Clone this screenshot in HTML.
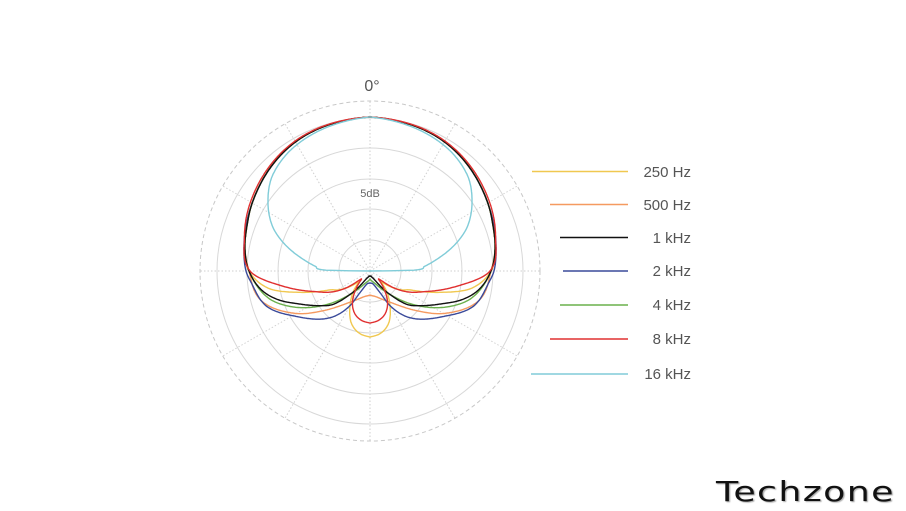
<!DOCTYPE html>
<html><head><meta charset="utf-8"><style>
html,body{margin:0;padding:0;background:#fff;}
body{width:906px;height:511px;overflow:hidden;position:relative;font-family:"Liberation Sans",sans-serif;}
.lg{position:absolute;right:215px;font-size:15px;color:#555;line-height:15px;}
.logo{position:absolute;left:716px;top:475px;font-size:28px;letter-spacing:1px;color:#111;text-shadow:1px 1px 1px #aaa;font-family:"DejaVu Sans","Liberation Sans",sans-serif;transform:scaleX(1.3);transform-origin:left;font-weight:normal;}
</style></head><body>
<svg id="s" width="906" height="511" style="position:absolute;left:0;top:0">
<g id="grid"></g>
<g id="curves" fill="none" stroke-width="1.4"></g>
<text x="372" y="91" text-anchor="middle" font-size="16" fill="#555" font-family="Liberation Sans, sans-serif">0°</text>
<rect x="357" y="185" width="28" height="14" fill="#fff"/>
<text x="370" y="197" text-anchor="middle" font-size="11" fill="#666" font-family="Liberation Sans, sans-serif">5dB</text>
<g stroke-width="1.5">
<line x1="532" y1="171.5" x2="628" y2="171.5" stroke="#f0c850"/>
<line x1="550" y1="204.5" x2="628" y2="204.5" stroke="#f59a60"/>
<line x1="560" y1="237.5" x2="628" y2="237.5" stroke="#111"/>
<line x1="563" y1="271" x2="628" y2="271" stroke="#3a4a9a"/>
<line x1="560" y1="305" x2="628" y2="305" stroke="#6ab04c"/>
<line x1="550" y1="339" x2="628" y2="339" stroke="#e03030"/>
<line x1="531" y1="374" x2="628" y2="374" stroke="#80ccd8"/>
</g>
</svg>
<div class="lg" style="top:165px">250 Hz</div>
<div class="lg" style="top:198px">500 Hz</div>
<div class="lg" style="top:231px">1 kHz</div>
<div class="lg" style="top:264px">2 kHz</div>
<div class="lg" style="top:298px">4 kHz</div>
<div class="lg" style="top:332px">8 kHz</div>
<div class="lg" style="top:367px">16 kHz</div>
<div class="logo">Techzone</div>
<script>
var cx=370,cy=271,NS="http://www.w3.org/2000/svg";
var g=document.getElementById('grid');
function el(t,a,p){var e=document.createElementNS(NS,t);for(var k in a)e.setAttribute(k,a[k]);p.appendChild(e);return e;}
[31,62,92,123,153].forEach(function(r){el('circle',{cx:cx,cy:cy,r:r,fill:'none',stroke:'#d8d8d8','stroke-width':1},g);});
el('circle',{cx:cx,cy:cy,r:170,fill:'none',stroke:'#c8c8c8','stroke-width':1,'stroke-dasharray':'4 3'},g);
for(var a=0;a<360;a+=30){var t=a*Math.PI/180;el('line',{x1:cx,y1:cy,x2:cx+170*Math.sin(t),y2:cy-170*Math.cos(t),stroke:'#cfcfcf','stroke-width':1,'stroke-dasharray':'1.5 2'},g);}
var front=[[0,154],[30,149],[60,136],[70,131],[80,127],[90,121]];
var C={
"#f0c850":front.concat([[100,102],[107,73],[115,45],[120,38],[128,25],[134,16],[140,25],[150,40],[160,55],[170,63],[180,66]]),
"#f59a60":front.concat([[105,113],[120,85],[130,62],[140,45],[150,35],[165,27],[180,24]]),
"#3a4a9a":[[0,154],[30,149],[60,136],[70,132],[80,128],[90,124],[96,119],[109,109],[122,86],[141,59],[150,40],[155,24],[165,14],[180,12]],
"#6ab04c":front.concat([[105,105],[115,85],[129,52],[140,30],[155,15],[180,8]]),
"#111":front.concat([[100,110],[107,97],[115,78],[124,62],[132,50],[140,30],[150,12],[165,6],[180,5]]),
"#e03030":[[0,154],[30,150],[60,138],[75,130],[90,120],[100,88],[110,60],[118,45],[125,30],[132,12],[140,20],[150,35],[160,45],[170,50],[180,52]],
"#80ccd8":[[0,154],[30,146],[45,137],[54,126],[65,108],[72,91],[80,68],[85,55],[89,44],[89.9,4],[180,0]]
};
var cg=document.getElementById('curves');
function interp(pts,a){for(var i=0;i<pts.length-1;i++){if(a>=pts[i][0]&&a<=pts[i+1][0]){var p0=pts[Math.max(0,i-1)],p1=pts[i],p2=pts[i+1],p3=pts[Math.min(pts.length-1,i+2)];var u=(a-p1[0])/(p2[0]-p1[0]||1);
var m1=(p2[1]-p0[1])/((p2[0]-p0[0])||1)*(p2[0]-p1[0]),m2=(p3[1]-p1[1])/((p3[0]-p1[0])||1)*(p2[0]-p1[0]);
var h00=2*u*u*u-3*u*u+1,h10=u*u*u-2*u*u+u,h01=-2*u*u*u+3*u*u,h11=u*u*u-u*u;return Math.max(0,h00*p1[1]+h10*m1+h01*p2[1]+h11*m2);}}return pts[pts.length-1][1];}
for(var col in C){var pts=C[col],q=[];
for(var a=-180;a<=180;a+=0.5){var r=interp(pts,Math.abs(a));if(col=="#80ccd8"){r=Math.abs(a)>=89.9?0:interp(pts,Math.abs(a));}var t=a*Math.PI/180;q.push((cx+r*Math.sin(t)).toFixed(1)+','+(cy-r*Math.cos(t)).toFixed(1));}
el('path',{d:'M'+q.join('L')+'Z',stroke:col},cg);}
</script>
</body></html>
